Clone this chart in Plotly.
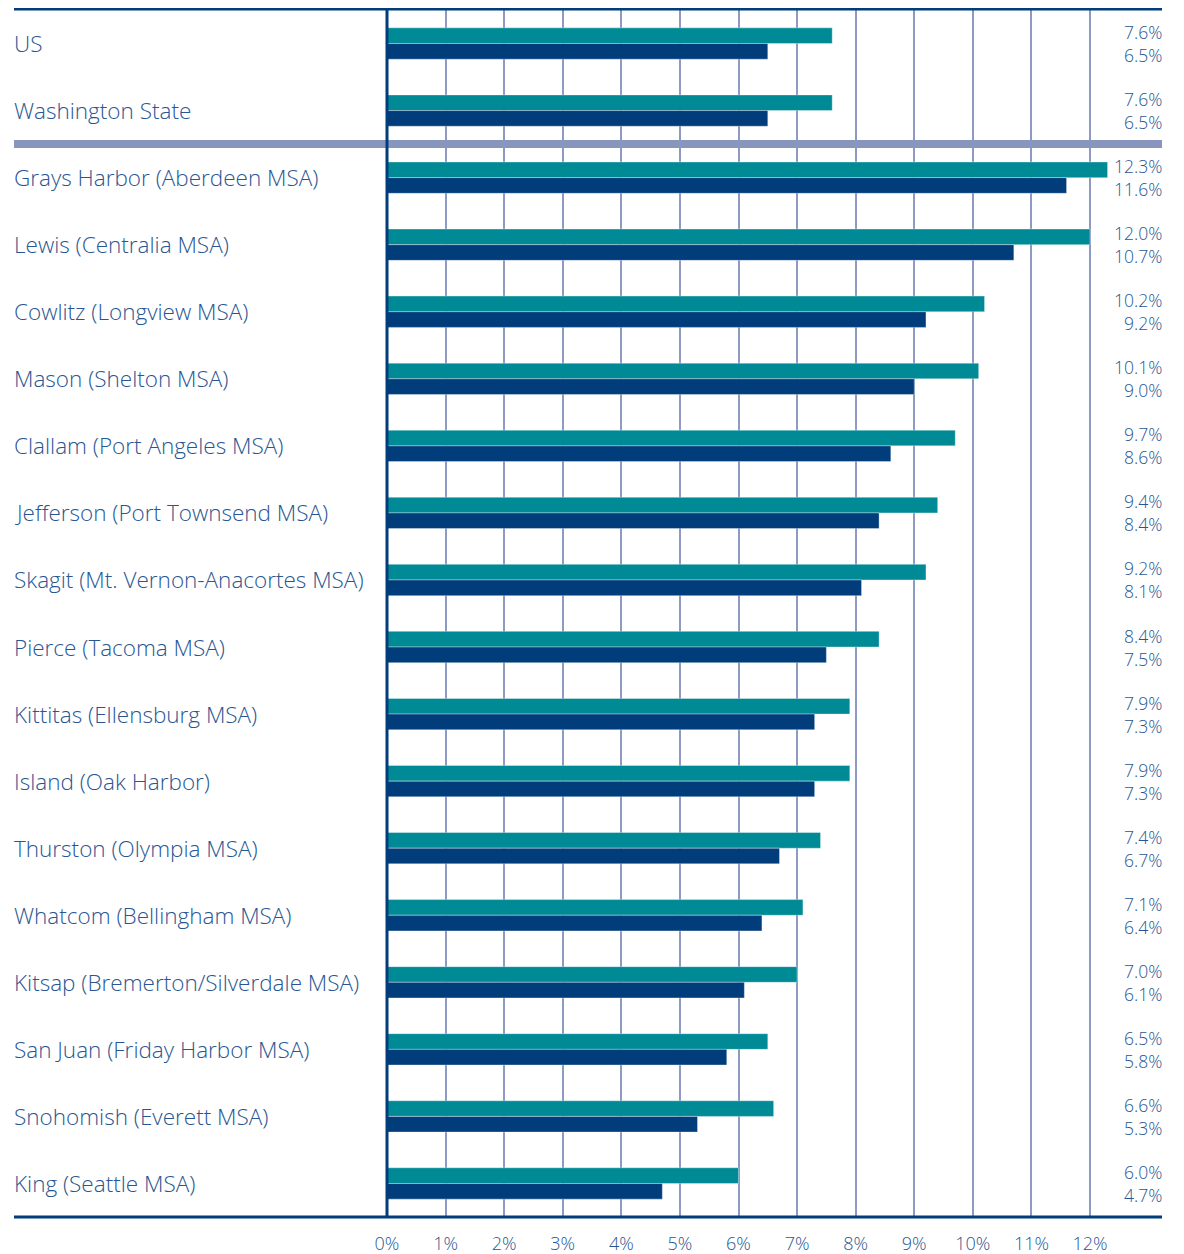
import plotly.graph_objects as go

regions = ["US", "Washington State", "Grays Harbor (Aberdeen MSA)", "Lewis (Centralia MSA)",
           "Cowlitz (Longview MSA)", "Mason (Shelton MSA)", "Clallam (Port Angeles MSA)",
           "Jefferson (Port Townsend MSA)", "Skagit (Mt. Vernon-Anacortes MSA)", "Pierce (Tacoma MSA)",
           "Kittitas (Ellensburg MSA)", "Island (Oak Harbor)", "Thurston (Olympia MSA)",
           "Whatcom (Bellingham MSA)", "Kitsap (Bremerton/Silverdale MSA)", "San Juan (Friday Harbor MSA)",
           "Snohomish (Everett MSA)", "King (Seattle MSA)"]
series_a = [7.6, 7.6, 12.3, 12.0, 10.2, 10.1, 9.7, 9.4, 9.2, 8.4, 7.9, 7.9, 7.4, 7.1, 7.0, 6.5, 6.6, 6.0]
series_b = [6.5, 6.5, 11.6, 10.7, 9.2, 9.0, 8.6, 8.4, 8.1, 7.5, 7.3, 7.3, 6.7, 6.4, 6.1, 5.8, 5.3, 4.7]
tick_vals = list(range(0, 13))
tick_text = [f"{v}%" for v in tick_vals]

TEAL = "#008A96"
NAVY = "#003D7A"
TXT = "#285692"
GRID = "#8C9AC4"
FONT = "Open Sans"

fig = go.Figure()
fig.add_trace(go.Bar(y=regions, x=series_a, orientation="h", marker_color=TEAL,
                     marker_line=dict(color="rgba(255,255,255,0.35)", width=1), showlegend=False))
fig.add_trace(go.Bar(y=regions, x=series_b, orientation="h", marker_color=NAVY,
                     marker_line=dict(color="rgba(255,255,255,0.35)", width=1), showlegend=False))

ann = []
for r, a, b in zip(regions, series_a, series_b):
    ann.append(dict(x=0, xref="paper", y=r, yref="y", text=r, showarrow=False,
                    xanchor="left", yanchor="middle", xshift=-2,
                    font=dict(size=22.5, color=TXT, family=FONT, weight=300)))
    ann.append(dict(x=1, xref="paper", y=r, yref="y", text=f"{a:.1f}%<br>{b:.1f}%", showarrow=False,
                    xanchor="right", yanchor="middle", align="right", xshift=2,
                    font=dict(size=17.5, color=TXT, family=FONT, weight=300)))

ph = 1207.0
shapes = [
    dict(type="line", xref="paper", yref="paper", x0=0, x1=1, y0=1 + 3 / ph, y1=1 + 3 / ph,
         line=dict(color=NAVY, width=7)),
    dict(type="line", xref="paper", yref="y", x0=0, x1=1, y0=1.5, y1=1.5,
         line=dict(color="#8896BE", width=8)),
    dict(type="line", xref="paper", yref="paper", x0=0, x1=1, y0=0, y1=0,
         line=dict(color=NAVY, width=3)),
    dict(type="line", xref="x", yref="paper", x0=0, x1=1e-9, y0=0, y1=1 + 3 / ph,
         line=dict(color=NAVY, width=3)),
]

fig.update_layout(
    width=1184, height=1254,
    margin=dict(l=6, r=30, t=2, b=45),
    paper_bgcolor="white", plot_bgcolor="white",
    barmode="group", bargap=0.533, bargroupgap=0,
    annotations=ann, shapes=shapes,
    xaxis=dict(range=[-6.367, 13.229], tickvals=tick_vals, ticktext=tick_text,
               showgrid=True, gridcolor=GRID, gridwidth=2, zeroline=False,
               showline=False, ticks="", ticklabelstandoff=14,
               tickfont=dict(size=18, color=TXT, family=FONT, weight=300),
               fixedrange=True),
    yaxis=dict(type="category", range=[17.5, -0.5], showticklabels=False, showgrid=False,
               zeroline=False, showline=False, ticks="", fixedrange=True),
    font=dict(family=FONT, color=TXT),
)

fig.write_html("out.html")
